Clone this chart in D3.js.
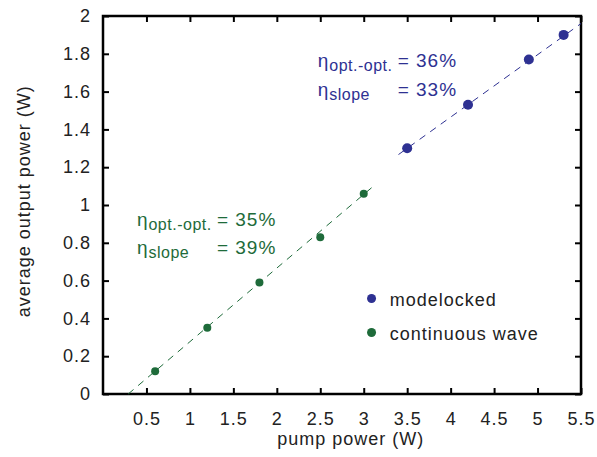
<!DOCTYPE html>
<html>
<head>
<meta charset="utf-8">
<script src="https://cdn.jsdelivr.net/npm/d3@7"></script>
<style>
  body { margin: 0; background: #fff; }
  text { font-family: "Liberation Sans", Arial, sans-serif; letter-spacing: 1px; }
</style>
</head>
<body>
<svg id="chart" width="597" height="457"></svg>
<script>
const xTicks = [0.5, 1, 1.5, 2, 2.5, 3, 3.5, 4, 4.5, 5, 5.5];
const yTicks = [0, 0.2, 0.4, 0.6, 0.8, 1, 1.2, 1.4, 1.6, 1.8, 2];

// continuous wave
const cwPump = [0.6, 1.2, 1.8, 2.5, 3.0];
const cwOut = [0.12, 0.35, 0.59, 0.83, 1.06];
// modelocked
const mlPump = [3.5, 4.2, 4.9, 5.3];
const mlOut = [1.3, 1.53, 1.77, 1.9];

// linear fits (dashed lines)
const cwFit = [[0.29, 0], [3.1, 1.095]];
const mlFit = [[3.4, 1.267], [5.5, 1.96]];

const blue = "#2e3192";
const green = "#1e6b3a";

const margin = { top: 16, right: 16, bottom: 63, left: 103 };
const svg = d3.select("#chart");
const width = 597 - margin.left - margin.right;
const height = 457 - margin.top - margin.bottom;
const g = svg.append("g").attr("transform", `translate(${margin.left},${margin.top})`);

const x = d3.scaleLinear().domain([0, 5.5]).range([0, width]);
const y = d3.scaleLinear().domain([0, 2]).range([height, 0]);

const fmt = (d) => String(d);

// axes with inward ticks
g.append("g").attr("transform", `translate(0,${height})`)
  .call(d3.axisBottom(x).tickValues(xTicks).tickSizeInner(-6).tickSizeOuter(0).tickPadding(18).tickFormat(fmt))
  .call((a) => a.select(".domain").remove());
g.append("g")
  .call(d3.axisTop(x).tickValues(xTicks).tickSizeInner(-6).tickSizeOuter(0).tickFormat(""))
  .call((a) => a.select(".domain").remove());
g.append("g")
  .call(d3.axisLeft(y).tickValues(yTicks).tickSizeInner(-6).tickSizeOuter(0).tickPadding(12).tickFormat(fmt))
  .call((a) => a.select(".domain").remove());
g.append("g").attr("transform", `translate(${width},0)`)
  .call(d3.axisRight(y).tickValues(yTicks).tickSizeInner(-6).tickSizeOuter(0).tickFormat(""))
  .call((a) => a.select(".domain").remove());

g.selectAll(".tick line").attr("stroke", "#000").attr("stroke-width", 2);
g.selectAll(".tick text").attr("font-size", 18).attr("fill", "#222")
  .attr("font-family", "'Liberation Sans', Arial, sans-serif");

g.append("rect").attr("width", width).attr("height", height)
  .attr("fill", "none").attr("stroke", "#000").attr("stroke-width", 2.5);

// fit lines
const line = d3.line().x((d) => x(d[0])).y((d) => y(d[1]));
g.append("path").datum(cwFit).attr("d", line)
  .attr("fill", "none").attr("stroke", green).attr("stroke-width", 1).attr("stroke-dasharray", "7,6");
g.append("path").datum(mlFit).attr("d", line)
  .attr("fill", "none").attr("stroke", blue).attr("stroke-width", 1).attr("stroke-dasharray", "7,6");

// points
g.selectAll(".cw").data(d3.zip(cwPump, cwOut)).join("circle")
  .attr("cx", (d) => x(d[0])).attr("cy", (d) => y(d[1])).attr("r", 4).attr("fill", green);
g.selectAll(".ml").data(d3.zip(mlPump, mlOut)).join("circle")
  .attr("cx", (d) => x(d[0])).attr("cy", (d) => y(d[1])).attr("r", 5).attr("fill", blue);

// annotations
function eta(px, py, sub, val, color) {
  const t = g.append("text").attr("x", px).attr("y", py).attr("fill", color).attr("font-size", 19);
  t.append("tspan").text("η");
  t.append("tspan").attr("dy", 4).attr("font-size", 16).style("letter-spacing", "0.5px").text(sub);
  g.append("text").attr("x", px + 80).attr("y", py).attr("fill", color).attr("font-size", 19).text(val);
}
eta(x(2.47), y(1.73), "opt.-opt.", "= 36%", blue);
eta(x(2.47), y(1.575), "slope", "= 33%", blue);
eta(x(0.39), y(0.89), "opt.-opt.", "= 35%", green);
eta(x(0.39), y(0.74), "slope", "= 39%", green);

// legend
const legend = [["modelocked", blue], ["continuous wave", green]];
legend.forEach(([name, c], i) => {
  const ly = y(0.505) + i * 34;
  g.append("circle").attr("cx", x(3.09)).attr("cy", ly).attr("r", 4.5).attr("fill", c);
  g.append("text").attr("x", x(3.3)).attr("y", ly + 7).attr("font-size", 18).attr("fill", "#222").text(name);
});

// axis titles
svg.append("text").attr("x", margin.left + x(2.85)).attr("y", 445).attr("text-anchor", "middle")
  .attr("font-size", 18).attr("fill", "#222").text("pump power (W)");
svg.append("text").attr("transform", `translate(30,${margin.top + y(1.02)}) rotate(-90)`)
  .attr("text-anchor", "middle").attr("font-size", 18).attr("fill", "#222").text("average output power (W)");
</script>
</body>
</html>
